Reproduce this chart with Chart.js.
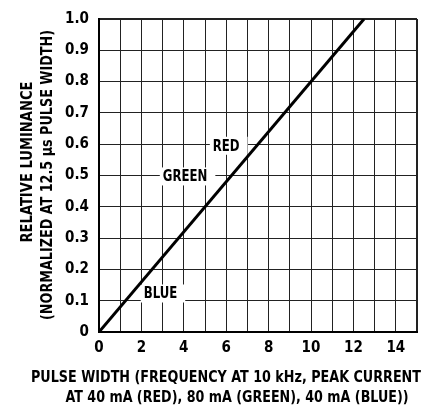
<!DOCTYPE html>
<html>
<head>
<meta charset="utf-8">
<script src="https://cdn.jsdelivr.net/npm/chart.js@4"></script>
<style>
  html, body { margin: 0; padding: 0; background: #fff; }
  #chart { display: block; }
</style>
</head>
<body>
<canvas id="chart" width="434" height="408"></canvas>
<script>
// one straight line, shared by the three colours
const pulseWidth = [0, 12.5];
const luminance = [0, 1.0];

const xTickLabels = ['0', '', '2', '', '4', '', '6', '', '8', '', '10', '', '12', '', '14', ''];
const yTickLabels = ['0', '0.1', '0.2', '0.3', '0.4', '0.5', '0.6', '0.7', '0.8', '0.9', '1.0'];

const curveNames = ['RED', 'GREEN', 'BLUE'];
const namePulse = [6.0, 4.06, 2.9];
const nameLum = [0.595, 0.497, 0.123];

const xTitleLines = ['PULSE WIDTH (FREQUENCY AT 10 kHz, PEAK CURRENT', 'AT 40 mA (RED), 80 mA (GREEN), 40 mA (BLUE))'];
const yTitleLines = ['RELATIVE LUMINANCE', '(NORMALIZED AT 12.5 \u00b5s PULSE WIDTH)'];

const FONT = "'Liberation Sans Narrow', 'Arial Narrow', 'DejaVu Sans Condensed', sans-serif";

// white boxes with the colour names, under the line
const curveNamePlugin = {
  id: 'curveNames',
  beforeDatasetsDraw(chart) {
    const { ctx, scales: { x, y } } = chart;
    ctx.save();
    ctx.font = 'bold 15px ' + FONT;
    ctx.textAlign = 'center';
    ctx.textBaseline = 'middle';
    for (let i = 0; i < curveNames.length; i++) {
      const px = x.getPixelForValue(namePulse[i]);
      const py = y.getPixelForValue(nameLum[i]);
      const w = ctx.measureText(curveNames[i]).width * 0.87;
      ctx.fillStyle = '#fff';
      ctx.fillRect(px - w / 2 - 3, py - 9, w + 11, 18);
      ctx.fillStyle = '#000';
      ctx.fillText(curveNames[i], px, py + 1, w);
    }
    ctx.restore();
  }
};

// axis captions, each line centred on its own spot like the original
const captionPlugin = {
  id: 'captions',
  afterDraw(chart) {
    const ctx = chart.ctx;
    ctx.save();
    ctx.font = 'bold 15px ' + FONT;
    ctx.fillStyle = '#000';
    ctx.textAlign = 'center';
    ctx.textBaseline = 'middle';
    ctx.fillText(xTitleLines[0], 226, 378, 390);
    ctx.fillText(xTitleLines[1], 237, 398, 343);
    ctx.translate(28, 162);
    ctx.rotate(-Math.PI / 2);
    ctx.fillText(yTitleLines[0], 0, 0, 161);
    ctx.fillText(yTitleLines[1], -13, 20, 290);
    ctx.restore();
  }
};

const tickFont = { family: FONT, size: 15, weight: 'bold' };

new Chart(document.getElementById('chart'), {
  type: 'scatter',
  data: {
    datasets: [{
      data: pulseWidth.map((v, i) => ({ x: v, y: luminance[i] })),
      showLine: true,
      borderColor: '#000',
      borderWidth: 3,
      pointRadius: 0,
      tension: 0
    }]
  },
  options: {
    responsive: false,
    animation: false,
    events: [],
    layout: { padding: { top: 16, right: 17, left: 0, bottom: 0 } },
    plugins: { legend: { display: false }, tooltip: { enabled: false } },
    scales: {
      x: {
        type: 'linear',
        min: 0,
        max: 15,
        afterFit: (s) => { s.height = 76; },
        grid: {
          color: '#222',
          lineWidth: (c) => (c.tick && c.tick.value === 15 ? 2 : 1),
          drawTicks: false
        },
        border: { color: '#000', width: 2 },
        ticks: {
          stepSize: 1,
          autoSkip: false,
          maxRotation: 0,
          padding: 7,
          color: '#000',
          font: tickFont,
          callback: (v, i) => xTickLabels[i]
        }
      },
      y: {
        min: 0,
        max: 1,
        afterFit: (s) => { s.width = 99; },
        grid: {
          color: '#222',
          lineWidth: (c) => (c.tick && c.tick.value === 1 ? 2 : 1),
          drawTicks: false
        },
        border: { color: '#000', width: 2 },
        ticks: {
          stepSize: 0.1,
          autoSkip: false,
          padding: 10,
          color: '#000',
          font: tickFont,
          callback: (v, i) => yTickLabels[i]
        }
      }
    }
  },
  plugins: [curveNamePlugin, captionPlugin]
});
</script>
</body>
</html>
